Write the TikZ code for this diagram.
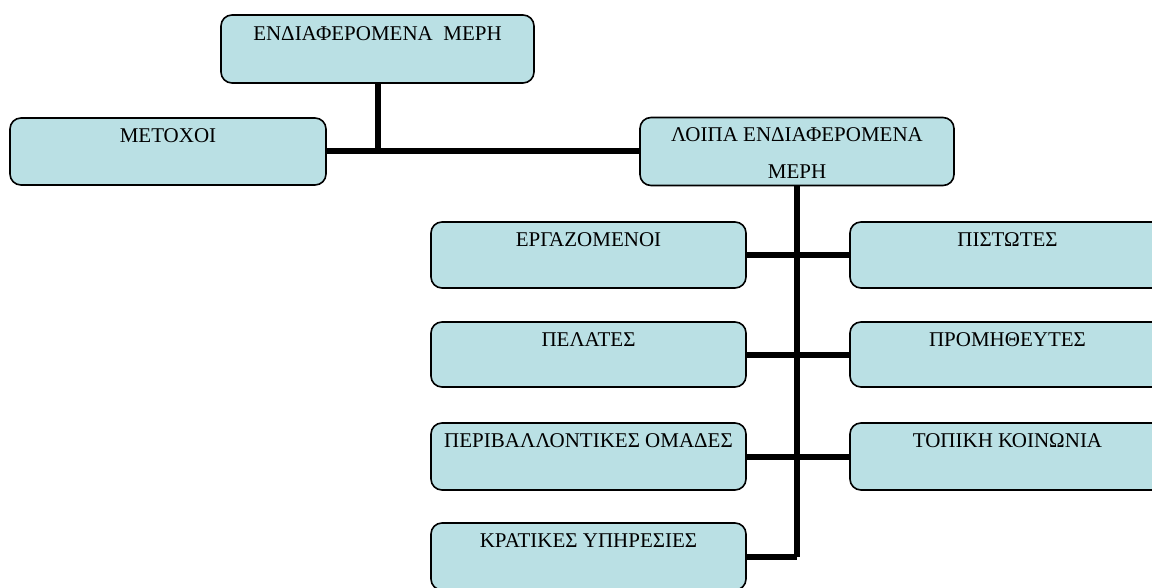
\documentclass[tikz,border=0pt]{standalone}
\usepackage{fontspec}
\setmainfont{Liberation Serif}
\definecolor{boxfill}{RGB}{186,224,228}
\tikzset{
  box/.style={draw=black, line width=1.6pt, fill=boxfill, rounded corners=11pt, minimum width=315pt, minimum height=67pt, inner sep=0pt},
  lbl/.style={anchor=north, font=\fontsize{21}{24}\selectfont, inner sep=0pt, yshift=-11pt, align=center},
  conn/.style={draw=black, line width=6pt}
}
\begin{document}
\begin{tikzpicture}[x=1pt,y=-1pt]
\useasboundingbox (0,0) rectangle (1152,588);
\clip (0,0) rectangle (1152,588);
\fill[white] (0,0) rectangle (1152,588);
% boxes
\node[box, minimum width=313pt, minimum height=68pt] (top) at (377.5,49) {};
\node[box, minimum width=316pt] (metoxoi) at (168,151.5) {};
\node[box, minimum width=314pt, minimum height=68pt] (loipa) at (797,151.5) {};
\node[box, minimum height=66pt] (ergaz) at (588.5,255) {};
\node[box, minimum height=65pt] (pelates) at (588.5,354.5) {};
\node[box] (periv) at (588.5,456.5) {};
\node[box] (kratikes) at (588.5,556.5) {};
\node[box, minimum height=66pt] (pistotes) at (1007.5,255) {};
\node[box, minimum height=65pt] (promith) at (1007.5,354.5) {};
\node[box] (topiki) at (1007.5,456.5) {};
% connectors
\draw[conn] (top.south) -- (top.south |- metoxoi.east);
\draw[conn] (metoxoi.east) -- (loipa.west);
\draw[conn] (loipa.south) -- (loipa.south |- kratikes.east);
\draw[conn] (ergaz.east) -- (pistotes.west);
\draw[conn] (pelates.east) -- (promith.west);
\draw[conn] (periv.east) -- (topiki.west);
\draw[conn] (kratikes.east) -- (loipa.south |- kratikes.east);
% labels
\node[lbl, yshift=-1pt] (tTop) at (top.north) {ΕΝΔΙΑΦΕΡΟΜΕΝΑ\ \ ΜΕΡΗ};
\node[lbl] (tMet) at (metoxoi.north) {ΜΕΤΟΧΟΙ};
\node[lbl, font=\fontsize{21}{37}\selectfont] (tLoipa) at (loipa.north) {ΛΟΙΠΑ ΕΝΔΙΑΦΕΡΟΜΕΝΑ\\ΜΕΡΗ};
\node[lbl] (tErg) at (ergaz.north) {ΕΡΓΑΖΟΜΕΝΟΙ};
\node[lbl] (tPel) at (pelates.north) {ΠΕΛΑΤΕΣ};
\node[lbl] (tPer) at (periv.north) {ΠΕΡΙΒΑΛΛΟΝΤΙΚΕΣ ΟΜΑΔΕΣ};
\node[lbl] (tKra) at (kratikes.north) {ΚΡΑΤΙΚΕΣ ΥΠΗΡΕΣΙΕΣ};
\node[lbl] (tPis) at (pistotes.north) {ΠΙΣΤΩΤΕΣ};
\node[lbl] (tPro) at (promith.north) {ΠΡΟΜΗΘΕΥΤΕΣ};
\node[lbl] (tTop2) at (topiki.north) {ΤΟΠΙΚΗ ΚΟΙΝΩΝΙΑ};
\end{tikzpicture}
\end{document}
